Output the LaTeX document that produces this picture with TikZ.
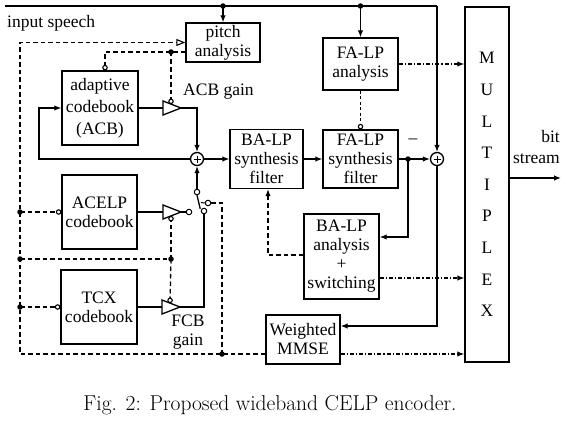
\documentclass[tikz,border=0pt]{standalone}
\usepackage{fontspec}
\newfontfamily\tms{Liberation Serif}
\usetikzlibrary{arrows.meta,calc}
\tikzset{
  ln/.style={line width=1.3pt},
  box/.style={draw, line width=1.3pt, inner sep=0pt, align=center, font=\tms\fontsize{17.5}{19}\selectfont},
  lbl/.style={font=\tms\fontsize{17.5}{19}\selectfont, inner sep=0pt},
  arr/.style={ln,-{Latex[length=7pt,width=5.5pt]}},
  tipf/.style={-{Latex[length=7pt,width=5.5pt]}},
  dsh/.style={ln,dash pattern=on 4.5pt off 3pt},
  dshs/.style={ln,dash pattern=on 3pt off 2.5pt},
  dshdot/.style={ln,dash pattern=on 4pt off 2pt on 1.2pt off 2pt},
  ocirc/.style={-{Circle[open,length=5.5pt,width=5.5pt,line width=1.1pt]}},
  dot/.style={circle,fill,inner sep=0pt,minimum size=5.5pt},
  swc/.style={circle,draw,line width=1pt,fill=white,inner sep=0pt,minimum size=5.5pt},
  summ/.style={circle,draw,line width=1.3pt,inner sep=0pt,minimum size=13pt,
    path picture={\draw[line width=1pt]
      ([xshift=-3.5pt]path picture bounding box.center) -- ([xshift=3.5pt]path picture bounding box.center)
      ([yshift=-3.5pt]path picture bounding box.center) -- ([yshift=3.5pt]path picture bounding box.center);}},
  gaintri/.pic={
    \draw[line width=1.3pt,fill=white] (-9,-7) -- (9,0) -- (-9,7) -- cycle;
    \coordinate (-w) at (-9,0);
    \coordinate (-a) at (9,0);
    \coordinate (-n) at (-1,-3.9);
    \coordinate (-s) at (-1,3.9);
  },
}
\begin{document}
\begin{tikzpicture}[x=1pt,y=-1pt]
\useasboundingbox (0,0) rectangle (567,420);
% blocks
\node[box,minimum width=74pt,minimum height=39pt] (pitch) at (223,42.5) {pitch\\analysis};
\node[box,minimum width=76pt,minimum height=74pt,font=\tms\fontsize{17.5}{22}\selectfont] (acb) at (100,108) {adaptive\\codebook\\(ACB)};
\node[box,minimum width=75pt,minimum height=74pt] (acelp) at (99.5,212) {ACELP\\codebook};
\node[box,minimum width=76pt,minimum height=74pt] (tcx) at (99,307) {TCX\\codebook};
\node[box,minimum width=73pt,minimum height=59pt] (basyn) at (266.5,159) {BA-LP\\synthesis\\filter};
\node[box,minimum width=75pt,minimum height=58pt] (fasyn) at (360.5,159) {FA-LP\\synthesis\\filter};
\node[box,minimum width=75pt,minimum height=52pt] (faan) at (360.5,64) {FA-LP\\analysis};
\node[box,minimum width=75pt,minimum height=85pt] (baan) at (341.5,256.5) {BA-LP\\analysis\\+\\switching};
\node[box,minimum width=74pt,minimum height=49pt] (wmmse) at (303,339.5) {Weighted\\MMSE};
\node[box,minimum width=44pt,minimum height=355pt,font=\tms\fontsize{17.5}{31.6}\selectfont] (mux) at (487,184.5) {M\\U\\L\\T\\I\\P\\L\\E\\X};
% sums
\node[summ] (s1) at (197,159) {};
\node[summ] (s2) at (437,159) {};
% helper coordinates
\coordinate (t0) at (5,6);
\coordinate (lx) at (20,0);
\coordinate (yb) at (0,354);
\coordinate (yp) at (0,52);
\coordinate (ym) at (0,259);
\coordinate (sx) at (222,0);
\coordinate (fx) at (39,0);
\coordinate (dx) at (408,0);
\coordinate (yba) at (0,237);
\coordinate (yw) at (0,326);
\coordinate (ybo) at (0,278);
\coordinate (ybl) at (0,255);
\coordinate (bx) at (268,0);
\coordinate (yo) at (0,178);
\coordinate (bso) at (561,178);
% top input line
\coordinate (tp) at (pitch.north |- t0);
\coordinate (tf) at (faan.north |- t0);
\coordinate (tr) at (s2.north |- t0);
\draw[ln] (t0) -- (tr);
\draw[arr] (tr) -- (s2.north);
\draw[arr] (tp) -- (pitch.north);
\draw[arr] (tf) -- (faan.north);
\node[dot] at (tp) {};
\node[dot] at (tf) {};
% dashed control network (drawn before gains so triangles cover line ends)
\coordinate (wb) at (wmmse.west |- yb);
\coordinate (bl) at (lx |- yb);
\coordinate (tl) at (lx |- pitch.west);
\draw[dsh,-{Triangle[open,length=9pt,width=7pt,line width=1.1pt]}] (wb) -- (bl) -- (tl) -- (pitch.west);
\coordinate (la) at (lx |- acelp.west);
\coordinate (lm) at (lx |- ym);
\coordinate (lt) at (lx |- tcx.west);
\draw[dsh,ocirc] (la) -- (acelp.west);
\draw[dsh,ocirc] (lt) -- (tcx.west);
\node[dot] at (la) {};
\node[dot] at (lm) {};
\node[dot] at (lt) {};
% gains
\pic (g1) at (172,108) {gaintri};
\pic (g2) at (172,212) {gaintri};
\pic (g3) at (171,307) {gaintri};
\coordinate (cm) at (g2-s |- ym);
\draw[dsh] (lm) -- (cm);
\draw[dsh,ocirc] (cm) -- (g2-s);
\draw[dsh,ocirc] (cm) -- (g3-n);
\node[dot] at (cm) {};
% switch
\node[swc] (pole) at (197,192) {};
\node[swc] (c1) at (189,212) {};
\node[swc] (c2) at (204,211) {};
\node[swc] (act) at (208,203) {};
\coordinate (sb) at (sx |- yb);
\draw[dsh] (sb) -- (sx |- act) -- (act.east);
\node[dot] at (sb) {};
% pitch outputs
\coordinate (pa) at (pitch.west |- yp);
\coordinate (pk) at ([xshift=5pt]acb.north |- yp);
\coordinate (pg) at (g1-n |- yp);
\draw[dsh,ocirc] (pa) -- (pk) -- ([xshift=5pt]acb.north);
\draw[dsh,ocirc] (pg) -- (g1-n);
\node[dot] at (pg) {};
% adaptive codebook path
\draw[ln] (acb.east) -- (g1-w);
\draw[arr] (g1-a) -- (s1.north |- g1-a) -- (s1.north);
\draw[arr] (s1.west) -- (fx |- s1.west) -- (fx |- acb.west) -- (acb.west);
\draw[arr] (s1.east) -- (basyn.west);
\draw[arr] (basyn.east) -- (fasyn.west);
\draw[dshs,ocirc] (faan.south) -- (fasyn.north);
\draw[dshdot,tipf] (faan.east) -- (mux.west |- faan.east);
% error path
\coordinate (dd) at (dx |- fasyn.east);
\draw[arr] (fasyn.east) -- (s2.west);
\node[dot] at (dd) {};
\node[lbl] (minus) at (413,141) {–};
\draw[arr] (dd) -- (dx |- yba) -- (baan.east |- yba);
\draw[arr] (s2.south) -- (s2.south |- yw) -- (wmmse.east |- yw);
\draw[dshdot,tipf] (baan.east |- ybo) -- (mux.west |- ybo);
\draw[dshdot,tipf] (wmmse.east |- yb) -- (mux.west |- yb);
\draw[dsh,tipf] (baan.west |- ybl) -- (bx |- ybl) -- (bx |- basyn.south);
% fixed codebooks and switch
\draw[ln] (acelp.east) -- (g2-w);
\draw[ln] (g2-a) -- (c1.west);
\draw[ln] (tcx.east) -- (g3-w);
\draw[ln] (g3-a) -- (c2.south |- g3-a) -- (c2.south);
\draw[ln] (pole.south) -- ([xshift=-1.5pt]c2.north west);
\draw[ln,line width=1pt] ($(pole)!0.55!(c2)$) -- (act.west);
\draw[arr] (pole.north) -- (s1.south);
% output
\draw[arr] (mux.east |- yo) -- (bso);
% labels
\node[lbl,anchor=west] (inlab) at (7,23) {input speech};
\node[lbl,anchor=west] (acbg) at (183,92) {ACB gain};
\node[lbl,align=center] (fcbg) at (188,332.5) {FCB\\gain};
\node[lbl,align=right,anchor=east,font=\tms\fontsize{17.5}{21}\selectfont] (bs) at (560,147.5) {bit\\stream};
\node[inner sep=0pt,font=\fontsize{21.5}{24}\selectfont] (cap) at (270,405) {Fig. 2: Proposed wideband CELP encoder.};
\end{tikzpicture}
\end{document}
